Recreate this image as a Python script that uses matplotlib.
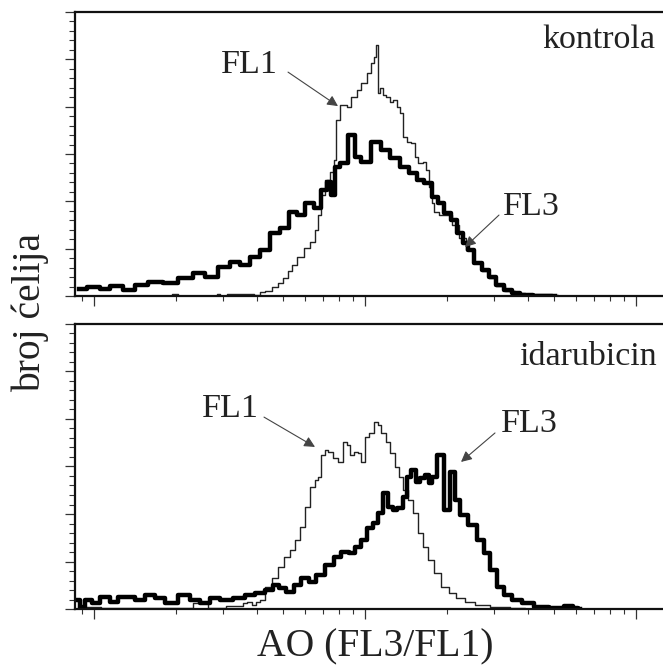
import matplotlib
matplotlib.use('Agg')
import matplotlib.pyplot as plt
from matplotlib.ticker import MultipleLocator, LogLocator, NullFormatter

plt.rcParams['font.family'] = ['Liberation Serif', 'DejaVu Serif']

# kontrola - FL3 (debela linija)
k_fl3_x = [0.088, 0.101, 0.110, 0.120, 0.136, 0.148, 0.168, 0.191, 0.217, 0.246,
           0.268, 0.304, 0.331, 0.361, 0.393, 0.428, 0.466, 0.507, 0.542, 0.576,
           0.627, 0.671, 0.700, 0.743, 0.756, 0.788, 0.823, 0.903, 0.934, 1.000,
           1.107, 1.185, 1.290, 1.405, 1.504, 1.596, 1.708, 1.813, 1.891, 2.025,
           2.112, 2.241, 2.339, 2.440, 2.612, 2.773, 2.942, 3.149, 3.371, 3.577,
           3.895, 4.424, 5.024]
k_fl3_y = [7.4, 9.5, 7.4, 10.6, 6.3, 11.6, 14.8, 13.7, 19.0, 24.3,
           20.1, 30.6, 35.9, 32.7, 41.2, 48.6, 66.5, 71.8, 88.7, 85.5,
           98.2, 92.9, 111.9, 120.4, 106.7, 136.2, 140.4, 170.0, 146.8, 141.5,
           162.6, 154.2, 145.7, 136.2, 129.9, 122.5, 119.3, 104.5, 98.2, 87.6,
           80.3, 66.5, 56.0, 48.6, 34.8, 27.5, 20.1, 11.6, 6.3, 3.2,
           1.1, 0, 0]

# kontrola - FL1 (tanka linija)
k_fl1_x = [0.0880, 0.1907, 0.1990, 0.2077, 0.2796, 0.2868, 0.2967, 0.3230, 0.3457, 0.3763,
           0.4028, 0.4168, 0.4386, 0.4655, 0.4857, 0.5068, 0.5289, 0.5424, 0.5756, 0.6109,
           0.6428, 0.6649, 0.6822, 0.6998, 0.7240, 0.7555, 0.7750, 0.7884, 0.8295, 0.8802,
           0.9031, 0.9584, 0.9831, 1.043, 1.070, 1.098, 1.107, 1.126, 1.155, 1.185,
           1.216, 1.258, 1.290, 1.324, 1.369, 1.405, 1.441, 1.504, 1.555, 1.596,
           1.665, 1.694, 1.738, 1.782, 1.828, 1.924, 2.025, 2.148, 2.280, 2.440,
           2.612, 2.773, 2.942, 3.149, 3.428, 3.733, 4.064, 4.424, 4.734, 5.024,
           5.244]
k_fl1_y = [0, 0, 2.1, 0, 0, 2.1, 0, 2.1, 2.1, 2.1,
           1.1, 4.2, 5.3, 9.5, 13.7, 19.0, 26.4, 32.7, 41.2, 50.7,
           57.0, 69.7, 85.5, 106.7, 122.5, 130.9, 143.6, 185.9, 201.7, 199.6,
           210.1, 217.5, 224.9, 235.5, 246.0, 252.4, 265.1, 214.4, 219.6, 212.3,
           210.1, 204.9, 207.0, 199.6, 193.2, 167.9, 162.6, 161.6, 146.8, 140.4,
           141.5, 133.1, 115.1, 98.2, 88.7, 85.5, 85.5, 75.0, 61.2, 48.6,
           34.8, 26.4, 19.0, 10.6, 5.3, 3.2, 2.1, 2.1, 2.1, 1.1,
           0]

# idarubicin - FL3
i_fl3_x = [0.0873, 0.0903, 0.0950, 0.1009, 0.1098, 0.1196, 0.1247, 0.1358, 0.1478, 0.1609,
           0.1752, 0.1907, 0.2167, 0.2359, 0.2568, 0.2796, 0.3043, 0.3457, 0.3763, 0.4099,
           0.4462, 0.4655, 0.4939, 0.5289, 0.5612, 0.6006, 0.6375, 0.6822, 0.7427, 0.7884,
           0.8437, 0.8956, 0.9423, 0.9831, 1.043, 1.089, 1.136, 1.185, 1.237, 1.290,
           1.346, 1.405, 1.441, 1.504, 1.569, 1.623, 1.694, 1.738, 1.782, 1.891,
           2.007, 2.094, 2.185, 2.299, 2.503, 2.657, 2.820, 2.968, 3.149, 3.342,
           3.638, 3.962, 4.424, 5.110, 5.707, 5.956, 6.216]
i_fl3_y = [9.5, 2.1, 9.5, 6.3, 12.6, 7.4, 12.6, 12.6, 9.5, 14.7,
           11.6, 6.3, 14.7, 9.5, 6.3, 11.6, 9.5, 11.6, 14.7, 16.8,
           20.0, 25.3, 22.1, 17.9, 25.3, 32.6, 28.4, 35.8, 46.3, 54.8,
           60.0, 59.0, 65.3, 72.7, 85.3, 90.6, 101.1, 122.1, 107.4, 104.2,
           106.4, 117.9, 139.0, 146.4, 133.7, 137.9, 141.1, 132.7, 139.0, 162.2,
           104.2, 144.3, 114.8, 99.0, 88.5, 72.7, 59.0, 41.1, 23.2, 14.7,
           9.5, 6.3, 2.1, 1.1, 3.2, 1.1, 0]

# idarubicin - FL1
i_fl1_x = [0.0873, 0.1247, 0.2077, 0.2568, 0.2679, 0.3457, 0.3607, 0.3763, 0.3927, 0.4028,
           0.4168, 0.4386, 0.4655, 0.4857, 0.5156, 0.5424, 0.5612, 0.5855, 0.6109, 0.6428,
           0.6649, 0.6822, 0.6998, 0.7240, 0.7427, 0.7750, 0.8084, 0.8437, 0.8656, 0.8956,
           0.9186, 0.9584, 0.9831, 1.017, 1.061, 1.107, 1.136, 1.165, 1.216, 1.268,
           1.313, 1.346, 1.405, 1.466, 1.529, 1.596, 1.665, 1.738, 1.844, 1.973,
           2.094, 2.241, 2.440, 2.657, 3.149, 3.733, 4.064]
i_fl1_y = [2.1, 1.1, 1.1, 6.3, 1.1, 3.2, 6.3, 7.4, 4.2, 7.4,
           9.5, 23.2, 32.6, 44.2, 54.8, 62.1, 72.7, 86.3, 107.4, 128.5,
           135.8, 139.0, 162.2, 167.4, 165.3, 159.0, 154.8, 175.9, 172.7, 162.2,
           165.3, 164.3, 154.8, 181.1, 185.3, 196.9, 193.8, 185.3, 175.9, 164.3,
           149.5, 139.0, 125.3, 114.8, 101.1, 80.0, 65.3, 51.6, 37.9, 23.2,
           16.8, 11.6, 7.4, 4.2, 2.1, 1.1, 0]

W, H = 663, 666
fig = plt.figure(figsize=(W / 100, H / 100), dpi=100)
ax1 = fig.add_axes([75 / W, 1 - 296 / H, 595 / W, 284 / H])
ax2 = fig.add_axes([75 / W, 1 - 609 / H, 595 / W, 285 / H])

for ax in (ax1, ax2):
    ax.set_xscale('log')
    ax.set_xlim(0.0851, 13.35)
    ax.set_ylim(0, 300)
    for s in ('left', 'top', 'bottom'):
        ax.spines[s].set_linewidth(1.6)
        ax.spines[s].set_color('#111111')
    ax.spines['right'].set_visible(False)
    ax.yaxis.set_major_locator(MultipleLocator(50))
    ax.yaxis.set_minor_locator(MultipleLocator(10))
    ax.xaxis.set_major_locator(LogLocator(base=10, numticks=10))
    ax.xaxis.set_minor_locator(LogLocator(base=10, subs=range(2, 10), numticks=20))
    ax.xaxis.set_minor_formatter(NullFormatter())
    ax.tick_params(axis='y', which='major', direction='out', length=7.5, width=0.9,
                   color='#333333', labelleft=False)
    ax.tick_params(axis='y', which='minor', direction='out', length=4.5, width=0.8,
                   color='#333333')
    ax.tick_params(axis='x', which='major', direction='out', length=7, width=0.9,
                   color='#333333', labelbottom=False)
    ax.tick_params(axis='x', which='minor', direction='out', length=3.5, width=0.8,
                   color='#333333')

ax1.plot(k_fl1_x, k_fl1_y, drawstyle='steps-mid', color='#222222', lw=1.0)
ax1.plot(k_fl3_x, k_fl3_y, drawstyle='steps-mid', color='#000000', lw=3.2)
ax2.plot(i_fl1_x, i_fl1_y, drawstyle='steps-mid', color='#222222', lw=1.0)
ax2.plot(i_fl3_x, i_fl3_y, drawstyle='steps-mid', color='#000000', lw=3.2)

arrow = dict(arrowstyle='-|>', color='#444444', lw=0.8, mutation_scale=16,
             shrinkA=0, shrinkB=0)
fs = 24.5

# gornji panel
ax1.text(11.75, 262, 'kontrola', ha='right', va='baseline', fontsize=fs, color='#222222')
ax1.text(0.376, 235.5, 'FL1', ha='center', va='baseline', fontsize=fs, color='#222222')
ax1.annotate('', xy=(0.795, 200.6), xytext=(0.520, 236.5), arrowprops=arrow)
ax1.text(4.10, 85.5, 'FL3', ha='center', va='baseline', fontsize=fs, color='#222222')
ax1.annotate('', xy=(2.339, 51.7), xytext=(3.122, 85.5), arrowprops=arrow)

# donji panel
ax2.text(11.95, 257, 'idarubicin', ha='right', va='baseline', fontsize=fs, color='#222222')
ax2.text(0.320, 202.2, 'FL1', ha='center', va='baseline', fontsize=fs, color='#222222')
ax2.annotate('', xy=(0.654, 170.6), xytext=(0.424, 202), arrowprops=arrow)
ax2.text(4.03, 186.4, 'FL3', ha='center', va='baseline', fontsize=fs, color='#222222')
ax2.annotate('', xy=(2.261, 154.8), xytext=(3.018, 185.3), arrowprops=arrow)

fig.text(375 / W, 1 - 656 / H, 'AO (FL3/FL1)', ha='center', va='baseline',
         fontsize=28.5, color='#222222')
fig.text(30 / W, 1 - 312 / H, 'broj ćelija', ha='center', va='center',
         rotation=90, fontsize=28.5, color='#222222')

fig.savefig('out.png', dpi=100)
